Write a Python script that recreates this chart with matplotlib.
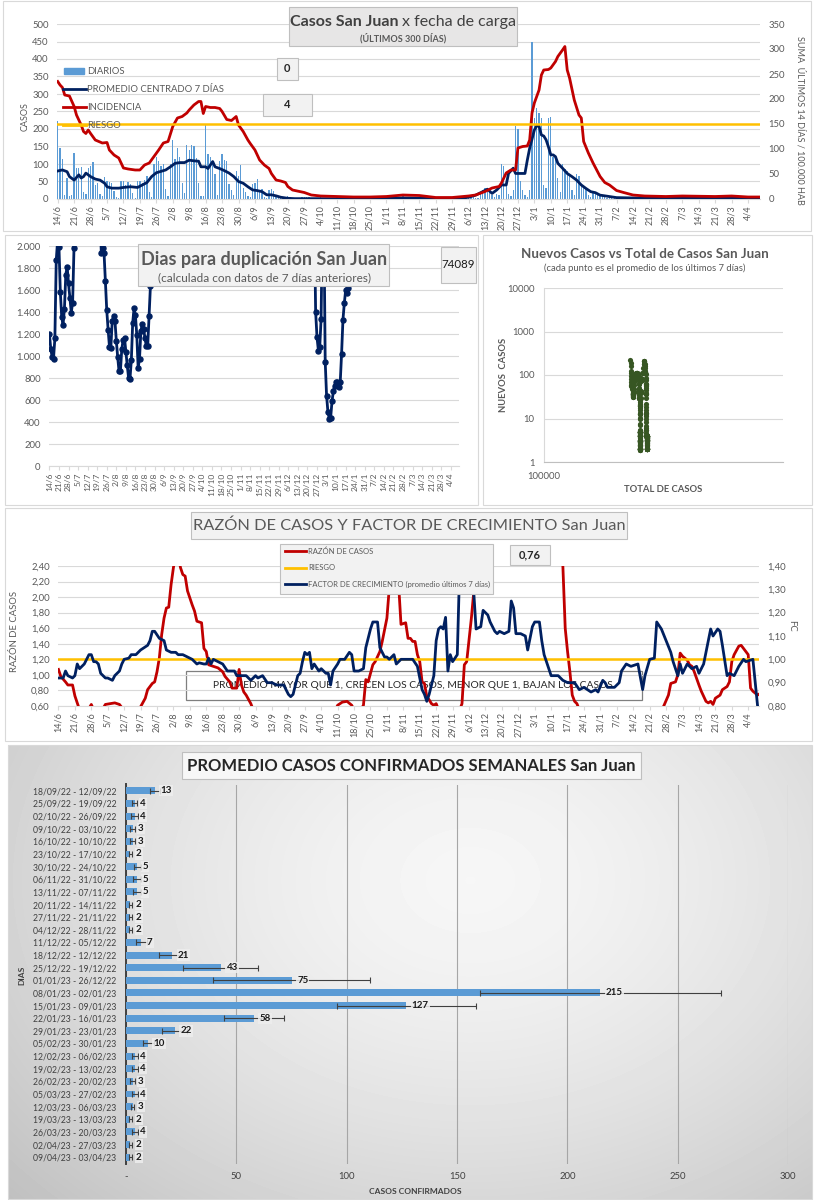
import numpy as np
import pandas as pd
import matplotlib
matplotlib.use("Agg")
import matplotlib.pyplot as plt
from matplotlib.patches import Rectangle
from matplotlib.ticker import NullLocator

plt.rcParams["font.family"] = ["Lato", "DejaVu Sans"]

W, H = 814, 1200
GRIS = "#595959"
GRILLA = "#D9D9D9"
BORDE = "#BFBFBF"
AZUL_BARRA = "#5B9BD5"
AZUL = "#002060"
ROJO = "#C00000"
NARANJA = "#FFC000"
VERDE = "#375623"

# ---------------- datos ----------------
fechas = pd.date_range("2022-06-14", "2023-04-09", freq="D")
dias = np.arange(len(fechas))
etiquetas = [f"{f.day}/{f.month}" for f in fechas[::7]]

# casos diarios por fecha de carga (14/6/22 .. 9/4/23)
diarios = [
    224, 145, 115, 10, 60, 8, 12,
    130, 88, 88, 90, 20, 15, 88,
    95, 105, 40, 45, 15, 8, 62,
    52, 48, 45, 22, 5, 3, 52,
    50, 40, 48, 42, 18, 3, 52,
    50, 45, 55, 65, 20, 5, 100,
    120, 108, 95, 100, 28, 8, 100,
    168, 115, 145, 120, 47, 18, 155,
    140, 155, 150, 118, 45, 8, 8,
    211, 128, 120, 105, 70, 10, 108,
    128, 110, 108, 42, 25, 10, 80,
    65, 98, 30, 20, 8, 5, 42,
    45, 58, 25, 28, 5, 3,
    25, 28, 22, 8, 3, 2, 3,
    6, 8, 5, 4, 2, 1, 2,
    5, 7, 6, 5, 2, 1, 2,
    4, 5, 4, 4, 1, 1, 2,
    3, 5, 4, 5, 2, 0, 2,
    3, 3, 2, 3, 1, 0, 2,
    6, 8, 7, 6, 3, 1, 4,
    5, 9, 7, 6, 3, 1, 4,
    6, 8, 7, 7, 2, 1, 4,
    3, 3, 3, 2, 1, 0, 2,
    2, 3, 3, 3, 1, 0, 2,
    3, 3, 2, 3, 1, 0, 2,
    5, 8, 10, 8, 3, 2, 13,
    25, 30, 28, 32, 12, 5, 15,
    12, 100, 95, 45, 15, 8, 26,
    208, 200, 50, 26, 10, 5, 26,
    450, 231, 260, 245, 231, 40, 30,
    231, 235, 121, 117, 60, 20, 100,
    85, 80, 65, 25, 12, 70, 65,
    40, 35, 30, 10, 5, 20, 14,
    18, 15, 12, 8, 3, 8, 6,
    6, 5, 6, 5, 3, 1, 2,
    5, 6, 5, 6, 3, 1, 2,
    4, 4, 5, 4, 2, 0, 2,
    6, 5, 6, 5, 3, 1, 2,
    4, 5, 4, 4, 2, 0, 2,
    3, 3, 3, 2, 1, 0, 2,
    5, 6, 6, 5, 3, 1, 2,
    3, 3, 2, 3, 1, 0, 2,
    3, 3, 3, 2, 1, 0, 2,
]

# promedio centrado 7 dias (eje izquierdo)
prom_dia = [0, 2, 4, 5, 7, 9, 10, 11, 12, 14,
            16, 18, 20, 21, 23, 26, 28, 31, 34, 36,
            38, 40, 42, 44, 46, 48, 50, 52, 54, 56,
            58, 60, 61, 63, 64, 66, 67, 69, 71, 73,
            75, 77, 79, 81, 83, 85, 87, 89, 91, 93,
            95, 98, 101, 110, 120, 130, 140, 150, 160, 170,
            175, 178, 181, 183, 185, 187, 189, 191, 192, 194,
            195, 197, 199, 200, 201, 203, 204, 205, 206, 207,
            208, 209, 210, 211, 212, 213, 215, 217, 219, 221,
            223, 225, 227, 229, 231, 233, 235, 238, 245, 255,
            265, 275, 285, 295, 299]
prom_val = [80, 83, 78, 64, 54, 69, 60, 64, 74, 64,
            57, 54, 45, 35, 31, 31, 33, 35, 33, 40,
            47, 64, 75, 79, 83, 92, 102, 104, 104, 111,
            109, 108, 92, 92, 87, 107, 92, 87, 81, 74,
            64, 50, 45, 35, 26, 24, 21, 12, 12, 9,
            5, 2, 1, 1, 1, 2, 3, 3, 1, 1,
            5, 11, 21, 28, 16, 26, 40, 40, 73, 88,
            73, 73, 73, 111, 145, 197, 209, 208, 183, 180,
            169, 149, 126, 126, 121, 102, 88, 73, 64, 54,
            40, 30, 21, 18, 11, 9, 7, 4, 3, 3,
            3, 2, 3, 2, 2]

# incidencia: suma ultimos 14 dias / 100.000 hab (eje derecho)
inc_dia = [0, 1, 2, 3, 5, 7, 8, 10, 11, 12,
           13, 14, 16, 19, 21, 22, 24, 26, 28, 30,
           33, 35, 37, 39, 41, 43, 45, 47, 49, 51,
           53, 55, 56, 58, 60, 61, 62, 63, 65, 67,
           69, 70, 72, 74, 76, 77, 79, 81, 82, 84,
           86, 88, 90, 91, 93, 95, 97, 98, 100, 103,
           105, 108, 112, 119, 126, 133, 140, 147, 154, 161,
           168, 175, 178, 182, 185, 188, 189, 191, 193, 195,
           196, 198, 200, 201, 202, 203, 205, 206, 207, 209,
           210, 212, 213, 215, 216, 217, 218, 220, 222, 223,
           224, 226, 228, 231, 233, 235, 238, 241, 245, 250,
           259, 266, 280, 287, 294, 299]
inc_val = [235, 228, 223, 208, 206, 185, 168, 148, 135, 131,
           138, 131, 118, 112, 113, 98, 88, 82, 62, 60,
           58, 58, 68, 72, 85, 98, 112, 115, 145, 162,
           165, 172, 178, 188, 195, 195, 171, 185, 183, 183,
           181, 175, 159, 157, 165, 148, 135, 118, 111, 98,
           78, 68, 61, 51, 38, 36, 33, 25, 18, 15,
           13, 8, 6, 5, 4, 4, 5, 8, 7, 3,
           3, 6, 8, 15, 22, 25, 32, 52, 58, 58,
           102, 105, 106, 118, 172, 192, 218, 248, 258, 259,
           262, 275, 285, 298, 305, 258, 242, 198, 168, 162,
           115, 92, 72, 45, 33, 28, 17, 13, 8, 6,
           5, 6, 5, 6, 4, 4]
RIESGO_INCIDENCIA = 150

# dias para duplicacion (valores > 2000 quedan fuera del grafico)
dup_dia = list(range(0, 20)) + [28] + list(range(37, 76)) + [130] + list(range(194, 222))
dup_val = [1200, 1065, 990, 975, 1160, 1870, 2050, 1990, 1580, 1355,
           1285, 1430, 1740, 1810, 1660, 1530, 1395, 1485, 1980, 2300,
           np.nan,
           2300, 1940, 1980, 1940, 1680, 1415, 1240, 1080, 1075, 1315,
           1365, 1320, 1140, 990, 860, 860, 1060, 1150, 1165, 1040,
           915, 800, 790, 960, 1300, 1435, 1370, 1190, 890, 975,
           1225, 1295, 1250, 1160, 1090, 1090, 1365, 1640, 2300,
           np.nan,
           2300, 1400, 1170, 1050, 1080, 1340, 2300, 2300, 950, 640,
           490, 430, 440, 590, 680, 730, 760, 760, 720, 760,
           1020, 1330, 1480, 1600, 1570, 1620, 1700, 2300]
NUMERO_DUP = "74089"

# total de casos acumulado al inicio del periodo (estimado)
total_inicial = 154000

# razon de casos (eje izquierdo) y factor de crecimiento (eje derecho)
raz_dia = [0, 1, 3, 4, 6, 7, 8, 9, 13, 14,
           15, 19, 20, 22, 24, 26, 27, 33, 35, 37,
           38, 40, 41, 42, 43, 44, 45, 46, 47, 48,
           49, 50, 51, 52, 53, 54, 55, 57, 58, 59,
           61, 62, 63, 64, 66, 68, 70, 71, 73, 74,
           76, 77, 78, 79, 80, 82, 83, 118, 119, 121,
           123, 125, 126, 129, 130, 131, 132, 134, 135, 137,
           138, 140, 141, 142, 144, 145, 146, 148, 149, 150,
           151, 152, 153, 154, 155, 156, 157, 158, 159, 160,
           161, 162, 171, 172, 173, 174, 176, 177, 178, 214,
           215, 216, 217, 218, 219, 220, 221, 222, 257, 258,
           260, 261, 263, 264, 265, 266, 268, 269, 270, 271,
           273, 274, 276, 277, 278, 279, 280, 282, 283, 285,
           286, 287, 288, 290, 291, 293, 294, 295, 296, 298,
           299]
raz_val = [1.07, 0.98, 0.91, 0.87, 0.87, 0.73, 0.64, 0.55, 0.57, 0.62,
           0.55, 0.57, 0.62, 0.63, 0.64, 0.62, 0.58, 0.55, 0.59, 0.70,
           0.81, 0.89, 0.91, 1.04, 1.22, 1.52, 1.73, 1.86, 1.87, 2.16,
           2.38, 2.55, 2.55, 2.38, 2.29, 2.27, 2.08, 1.90, 1.82, 1.69,
           1.67, 1.34, 1.30, 1.13, 1.11, 1.09, 1.04, 0.98, 0.91, 0.83,
           0.83, 1.07, 0.87, 0.78, 0.74, 0.63, 0.55, 0.55, 0.61, 0.65,
           0.66, 0.61, 0.55, 0.56, 0.61, 0.94, 0.91, 1.13, 1.17, 1.30,
           1.43, 1.73, 2.12, 2.50, 2.50, 2.16, 1.65, 1.67, 1.47, 1.47,
           1.43, 1.43, 1.26, 1.17, 0.91, 0.89, 0.72, 0.68, 0.63, 0.61,
           0.63, 0.55, 0.55, 0.63, 1.13, 1.17, 1.73, 2.06, 2.50, 2.50,
           2.40, 1.60, 1.30, 1.04, 0.74, 0.66, 0.63, 0.55, 0.55, 0.60,
           0.74, 0.89, 0.91, 1.00, 1.28, 1.24, 1.19, 1.13, 1.11, 1.04,
           0.87, 0.79, 0.66, 0.64, 0.66, 0.62, 0.70, 0.74, 0.81, 0.85,
           0.91, 1.17, 1.26, 1.37, 1.38, 1.30, 1.26, 0.83, 0.79, 0.74,
           0.76]
fc_dia = [0, 2, 3, 4, 6, 7, 8, 9, 11, 12,
          13, 14, 15, 16, 17, 18, 20, 21, 23, 24,
          26, 27, 28, 30, 31, 33, 35, 38, 39, 40,
          41, 43, 45, 46, 48, 50, 51, 53, 55, 57,
          58, 59, 60, 62, 63, 64, 65, 66, 68, 70,
          72, 73, 75, 76, 78, 80, 82, 84, 85, 87,
          89, 91, 93, 96, 98, 99, 100, 102, 103, 104,
          105, 106, 107, 108, 109, 111, 112, 114, 115, 116,
          117, 119, 120, 122, 124, 125, 126, 128, 130, 131,
          133, 134, 136, 137, 139, 140, 141, 143, 144, 146,
          148, 151, 153, 155, 156, 157, 158, 160, 161, 162,
          163, 164, 165, 166, 167, 168, 170, 171, 172, 176,
          177, 178, 180, 181, 183, 184, 186, 187, 188, 190,
          192, 193, 194, 195, 197, 199, 200, 202, 203, 205,
          206, 207, 209, 210, 213, 215, 217, 220, 222, 224,
          227, 229, 230, 232, 233, 234, 237, 239, 240, 242,
          244, 247, 249, 250, 252, 254, 255, 257, 259, 261,
          262, 264, 265, 266, 268, 270, 272, 273, 275, 276,
          278, 279, 281, 282, 283, 285, 286, 288, 289, 290,
          292, 293, 296, 297, 298, 299]
fc_val = [0.92, 0.92, 0.95, 0.93, 0.92, 0.93, 0.98, 0.96, 0.98, 1.00,
          1.02, 1.02, 0.99, 0.99, 0.98, 0.94, 0.92, 0.92, 0.91, 0.93,
          0.95, 0.98, 1.00, 1.005, 1.02, 1.02, 1.04, 1.06, 1.08, 1.12,
          1.12, 1.09, 1.08, 1.04, 1.03, 1.03, 1.02, 1.02, 1.01, 1.00,
          0.99, 0.98, 0.985, 0.98, 0.98, 1.005, 0.98, 1.00, 0.99, 0.98,
          0.95, 0.95, 0.95, 0.93, 0.93, 0.93, 0.91, 0.93, 0.92, 0.93,
          0.90, 0.90, 0.89, 0.89, 0.85, 0.84, 0.85, 0.93, 0.94, 0.99,
          1.03, 1.02, 1.03, 0.96, 0.98, 0.95, 0.96, 0.94, 0.94, 0.89,
          0.95, 0.98, 1.00, 1.00, 1.03, 1.02, 0.95, 0.95, 0.96, 1.05,
          1.13, 1.16, 1.16, 1.05, 1.01, 1.01, 1.00, 1.02, 0.98, 1.00,
          1.00, 1.00, 0.97, 0.87, 0.85, 0.82, 0.85, 0.93, 1.08, 1.13,
          1.14, 1.13, 1.18, 0.95, 1.02, 0.99, 1.02, 1.39, 1.45, 1.45,
          1.29, 1.13, 1.14, 1.21, 1.19, 1.16, 1.12, 1.11, 1.12, 1.11,
          1.12, 1.25, 1.22, 1.11, 1.11, 1.10, 1.04, 1.14, 1.16, 1.16,
          1.08, 1.02, 0.96, 0.93, 0.93, 0.91, 0.90, 0.90, 0.87, 0.88,
          0.86, 0.87, 0.86, 0.91, 0.90, 0.88, 0.88, 0.90, 0.95, 0.98,
          0.97, 0.98, 0.87, 0.93, 1.00, 1.005, 1.16, 1.13, 1.08, 1.03,
          0.99, 0.93, 0.98, 0.94, 0.98, 0.96, 0.97, 0.94, 0.98, 1.03,
          1.13, 1.10, 1.13, 1.12, 1.06, 0.93, 0.94, 0.93, 0.95, 0.97,
          1.00, 0.99, 1.00, 0.90, 0.80, 0.78]
RIESGO_FC = 1.0
ULTIMO_FC = "0,76"

# promedio semanal de casos confirmados
semanas = ["18/09/22 - 12/09/22", "25/09/22 - 19/09/22", "02/10/22 - 26/09/22",
           "09/10/22 - 03/10/22", "16/10/22 - 10/10/22", "23/10/22 - 17/10/22",
           "30/10/22 - 24/10/22", "06/11/22 - 31/10/22", "13/11/22 - 07/11/22",
           "20/11/22 - 14/11/22", "27/11/22 - 21/11/22", "04/12/22 - 28/11/22",
           "11/12/22 - 05/12/22", "18/12/22 - 12/12/22", "25/12/22 - 19/12/22",
           "01/01/23 - 26/12/22", "08/01/23 - 02/01/23", "15/01/23 - 09/01/23",
           "22/01/23 - 16/01/23", "29/01/23 - 23/01/23", "05/02/23 - 30/01/23",
           "12/02/23 - 06/02/23", "19/02/23 - 13/02/23", "26/02/23 - 20/02/23",
           "05/03/23 - 27/02/23", "12/03/23 - 06/03/23", "19/03/23 - 13/03/23",
           "26/03/23 - 20/03/23", "02/04/23 - 27/03/23", "09/04/23 - 03/04/23"]
promedio_semanal = [13, 4, 4, 3, 3, 2, 5, 5, 5, 2, 2, 2, 7, 21, 43,
                    75, 215, 127, 58, 22, 10, 4, 4, 3, 4, 3, 2, 4, 2, 2]
desvio_semanal = [2.2, 1.2, 1.6, 1.0, 1.0, 0.6, 1.6, 1.8, 1.8, 0.6, 0.8, 0.6, 2.5, 6.0, 17.0,
                  35.5, 54.5, 31.5, 13.5, 5.5, 2.5, 1.5, 1.5, 1.0, 1.5, 0.8, 0.6, 1.5, 0.7, 0.7]


# ---------------- helpers ----------------
def rect(l, t, r, b):
    return [l / W, 1 - b / H, (r - l) / W, (b - t) / H]


def caja(ax, x0, y0, x1, y1, fc="#F2F2F2", ec=BORDE, lw=0.8, z=1):
    ax.add_patch(Rectangle((x0, y0), x1 - x0, y1 - y0, facecolor=fc,
                           edgecolor=ec, linewidth=lw, zorder=z))


def limpiar(ax, pad=6):
    for s in ax.spines.values():
        s.set_visible(False)
    ax.set_facecolor("none")
    ax.tick_params(colors=GRIS, labelsize=6.8, length=0, pad=pad)


def eje_fechas(ax, size=6.5):
    ax.set_xticks(dias[::7])
    ax.set_xticklabels(etiquetas, rotation=90, fontsize=size, color=GRIS)
    ax.tick_params(axis="x", length=3, color=GRILLA, pad=1.5)
    ax.spines["bottom"].set_visible(True)
    ax.spines["bottom"].set_color(GRILLA)


def coma(v, dec=2):
    return f"{v:.{dec}f}".replace(".", ",")


fig = plt.figure(figsize=(W / 100, H / 100), dpi=100)

fondo = fig.add_axes([0, 0, 1, 1], zorder=-5)
fondo.set_xlim(0, W)
fondo.set_ylim(H, 0)
fondo.axis("off")
for x0, y0, x1, y1 in [(3, 1, 811, 231), (5, 235, 478, 505),
                       (483, 235, 812, 505), (5, 508, 812, 741)]:
    caja(fondo, x0, y0, x1, y1, fc="white", ec=GRILLA)

# fondo degradado del panel semanal
yy, xx = np.mgrid[745:1200, 8:812]
rr = np.hypot((xx - 470) / 560.0, (yy - 880) / 420.0)
degradado = 0.965 - 0.18 * np.clip(rr, 0, 1.4) ** 1.5
fondo.imshow(degradado, cmap="gray", vmin=0, vmax=1, extent=(8, 812, 1200, 745),
             aspect="auto", interpolation="bilinear", zorder=0)
caja(fondo, 8, 745, 812, 1199, fc="none", ec=GRILLA, z=2)

# texto de referencia del panel de razon (queda detras de las lineas)
caja(fondo, 186, 671, 642, 700, fc="none", ec="#7F7F7F", lw=0.9, z=3)
fondo.text(414, 686, "PROMEDIO MAYOR QUE 1, CRECEN LOS CASOS, MENOR QUE 1, BAJAN LOS CASOS.",
           ha="center", va="center", fontsize=7.4, color="#262626", zorder=4)

# ---------------- panel 1: casos diarios ----------------
ax1 = fig.add_axes(rect(57, 24, 760, 199))
limpiar(ax1)
ax1.bar(dias, diarios, width=0.55, color=AZUL_BARRA, zorder=2)
ax1.plot(prom_dia, prom_val, color=AZUL, lw=2.0, zorder=3)
ax1.set_xlim(-0.3, 299.1)
ax1.set_ylim(0, 500)
ax1.set_yticks(range(0, 501, 50))
ax1.grid(axis="y", color=GRILLA, lw=0.8, zorder=0)
ax1.set_axisbelow(True)
eje_fechas(ax1)

ax1r = ax1.twinx()
limpiar(ax1r, pad=6)
ax1r.plot(inc_dia, inc_val, color=ROJO, lw=2.0, zorder=3)
ax1r.axhline(RIESGO_INCIDENCIA, color=NARANJA, lw=1.8, zorder=4)
ax1r.set_ylim(0, 350)
ax1r.set_yticks(range(0, 351, 50))

# ---------------- panel 2: dias para duplicacion ----------------
ax2 = fig.add_axes(rect(49, 246, 459, 466))
limpiar(ax2)
ax2.plot(dup_dia, dup_val, color=AZUL, lw=2.0, marker="o", ms=3.6, zorder=3)
ax2.set_xlim(-0.3, 300)
ax2.set_ylim(0, 2000)
ax2.set_yticks(range(0, 2001, 200))
ax2.set_yticklabels([f"{v:,}".replace(",", ".") for v in range(0, 2001, 200)])
ax2.grid(axis="y", color=GRILLA, lw=0.8, zorder=0)
eje_fechas(ax2, size=6.0)

# ---------------- panel 3: nuevos casos vs total ----------------
total_casos = total_inicial + np.cumsum(diarios)
nuevos_7d = pd.Series(diarios, dtype=float).rolling(7, min_periods=1).mean().to_numpy()
ax3 = fig.add_axes(rect(544, 288, 783, 462))
limpiar(ax3, pad=7)
ax3.scatter(total_casos, nuevos_7d, s=14, color=VERDE, zorder=3, linewidths=0)
ax3.set_yscale("log")
ax3.set_ylim(1, 10000)
ax3.set_yticks([1, 10, 100, 1000, 10000])
ax3.set_yticklabels(["1", "10", "100", "1000", "10000"])
ax3.yaxis.set_minor_locator(NullLocator())
ax3.set_xlim(100000, 250000)
ax3.set_xticks([100000])
ax3.set_xticklabels(["100000"])
ax3.grid(axis="y", color=GRILLA, lw=0.8, zorder=0)
ax3.spines["bottom"].set_visible(True)
ax3.spines["bottom"].set_color(BORDE)
ax3.spines["left"].set_visible(True)
ax3.spines["left"].set_color(GRILLA)

# ---------------- panel 4: razon y factor de crecimiento ----------------
ax4 = fig.add_axes(rect(58, 566, 759, 706))
limpiar(ax4)
ax4.plot(raz_dia, raz_val, color=ROJO, lw=2.0, zorder=3)
ax4.set_xlim(-0.2, 298.6)
ax4.set_ylim(0.6, 2.4)
yt = np.arange(0.6, 2.41, 0.2)
ax4.set_yticks(yt)
ax4.set_yticklabels([coma(v) for v in yt])
ax4.grid(axis="y", color=GRILLA, lw=0.8, zorder=0)
eje_fechas(ax4)

ax4r = ax4.twinx()
limpiar(ax4r)
ax4r.axhline(RIESGO_FC, color=NARANJA, lw=1.8, zorder=2)
ax4r.plot(fc_dia, fc_val, color=AZUL, lw=2.0, zorder=3)
ax4r.set_ylim(0.8, 1.4)
yt = np.arange(0.8, 1.41, 0.1)
ax4r.set_yticks(yt)
ax4r.set_yticklabels([coma(v) for v in yt])

# ---------------- panel 5: promedio semanal ----------------
ax5 = fig.add_axes(rect(126, 784.5, 788, 1163.5))
for s in ax5.spines.values():
    s.set_visible(False)
ax5.set_facecolor("none")
ax5.spines["left"].set_visible(True)
ax5.spines["left"].set_color("#404040")
ax5.spines["left"].set_linewidth(1.4)
pos = np.arange(len(semanas))
ax5.barh(pos, promedio_semanal, height=0.55, color=AZUL_BARRA, zorder=3,
         xerr=desvio_semanal,
         error_kw=dict(ecolor="#404040", elinewidth=0.8, capsize=2, capthick=0.8, zorder=4))
for i, v in enumerate(promedio_semanal):
    ax5.annotate(str(v), (v, i), xytext=(4, 0), textcoords="offset points",
                 ha="left", va="center", fontsize=7, fontweight="bold", color="#1A1A1A",
                 zorder=6, bbox=dict(boxstyle="square,pad=0.12", fc="#EEEEEE", ec="none", alpha=0.85))
ax5.set_xlim(0, 300)
ax5.set_ylim(len(semanas) - 0.5, -0.5)
ax5.set_xticks(range(0, 301, 50))
ax5.set_xticklabels(["-"] + [str(v) for v in range(50, 301, 50)])
ax5.set_yticks(pos)
ax5.set_yticklabels(semanas)
ax5.grid(axis="x", color="#A6A6A6", lw=0.8, zorder=0)
ax5.tick_params(axis="y", length=0, pad=7, labelsize=6.2, colors="#404040")
ax5.tick_params(axis="x", length=0, pad=6, labelsize=6.8, colors="#404040")

# ---------------- textos y cajas ----------------
ov = fig.add_axes([0, 0, 1, 1], zorder=20)
ov.set_xlim(0, W)
ov.set_ylim(H, 0)
ov.axis("off")

# panel 1
caja(ov, 289, 7, 517, 46, fc="#E7E6E6")
ov.text(398, 22, "Casos San Juan", ha="right", va="center", fontsize=11.5,
        fontweight="bold", color="#404040")
ov.text(402, 22, "x fecha de carga", ha="left", va="center", fontsize=11.5, color="#404040")
ov.text(403, 38, "(ÚLTIMOS 300 DÍAS)", ha="center", va="center", fontsize=6.5,
        fontweight="bold", color=GRIS)
caja(ov, 277, 58, 298, 80)
ov.text(287.5, 69, "0", ha="center", va="center", fontsize=8, fontweight="bold", color="#262626")
caja(ov, 263, 94, 312, 116)
ov.text(287.5, 105, "4", ha="center", va="center", fontsize=8, fontweight="bold", color="#262626")

ov.add_patch(Rectangle((64, 68), 20, 6, color=AZUL_BARRA))
for yl, col in [(89, AZUL), (107, ROJO), (125, NARANJA)]:
    ov.plot([63, 86], [yl, yl], color=col, lw=2.0)
for yl, txt in [(71, "DIARIOS"), (89, "PROMEDIO CENTRADO 7 DÍAS"), (107, "INCIDENCIA"), (125, "RIESGO")]:
    ov.text(87, yl, txt, ha="left", va="center", fontsize=6.8, color=GRIS)
ov.text(25, 117, "CASOS", rotation=90, ha="center", va="center", fontsize=6.5, color=GRIS)
ov.text(800, 120, "SUMA  ÚLTIMOS 14 DÍAS / 100.000 HAB", rotation=270, ha="center",
        va="center", fontsize=6.5, color=GRIS)

# panel 2
caja(ov, 138, 244, 389, 286)
ov.text(264, 259, "Dias para duplicación San Juan", ha="center", va="center",
        fontsize=13, fontweight="bold", color=GRIS)
ov.text(264, 278, "(calculada con datos de 7 días anteriores)", ha="center", va="center",
        fontsize=8.5, color=GRIS)
caja(ov, 441, 247, 476, 283)
ov.text(458.5, 265, NUMERO_DUP, ha="center", va="center", fontsize=8.3, color="#1A1A1A")

# panel 3
ov.text(645, 254, "Nuevos Casos vs Total de Casos San Juan", ha="center", va="center",
        fontsize=9.6, fontweight="bold", color=GRIS)
ov.text(645, 268, "(cada punto es el promedio de los últimos 7 días)", ha="center",
        va="center", fontsize=6.8, color=GRIS)
ov.text(503, 375, "NUEVOS  CASOS", rotation=90, ha="center", va="center", fontsize=6.8,
        fontweight="bold", color=GRIS)
ov.text(663, 490, "TOTAL DE CASOS", ha="center", va="center", fontsize=6.8,
        fontweight="bold", color=GRIS)

# panel 4
caja(ov, 191, 512, 627, 539)
ov.text(409, 525.5, "RAZÓN DE CASOS Y FACTOR DE CRECIMIENTO San Juan", ha="center",
        va="center", fontsize=11.8, color=GRIS)
caja(ov, 280, 544, 493, 594)
for yl, col, txt in [(551, ROJO, "RAZÓN DE CASOS"), (568, NARANJA, "RIESGO"),
                     (584, AZUL, "FACTOR DE CRECIMIENTO (promedio últimos 7 días)")]:
    ov.plot([285, 306], [yl, yl], color=col, lw=2.0)
    ov.text(308, yl, txt, ha="left", va="center", fontsize=5.5, color=GRIS)
caja(ov, 510, 545, 550, 565)
ov.text(530, 555, ULTIMO_FC, ha="center", va="center", fontsize=8, fontweight="bold", color="#262626")
ov.text(15, 631, "RAZÓN DE CASOS", rotation=90, ha="center", va="center", fontsize=6.8, color=GRIS)
ov.text(792, 626, "FC", rotation=270, ha="center", va="center", fontsize=6.8, color=GRIS)

# panel 5
caja(ov, 182, 752, 641, 779, fc="#F7F7F7")
ov.text(411.5, 766, "PROMEDIO CASOS CONFIRMADOS SEMANALES San Juan", ha="center",
        va="center", fontsize=12, fontweight="bold", color="#262626")
ov.text(22, 975, "DIAS", rotation=90, ha="center", va="center", fontsize=6,
        fontweight="bold", color="#404040")
ov.text(415, 1191, "CASOS CONFIRMADOS", ha="center", va="center", fontsize=6,
        fontweight="bold", color="#404040")

fig.savefig("out.png", dpi=100)
